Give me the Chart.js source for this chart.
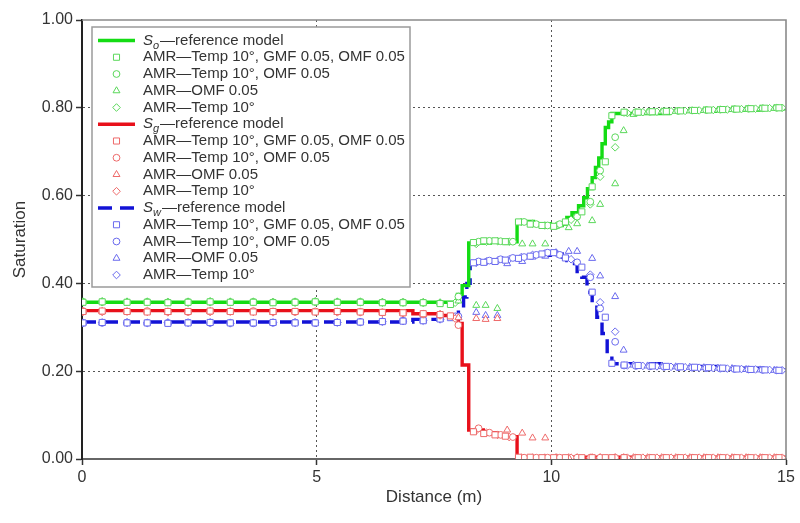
<!DOCTYPE html>
<html>
<head>
<meta charset="utf-8">
<script src="https://cdn.jsdelivr.net/npm/chart.js"></script>
<style>
  html, body { margin: 0; padding: 0; background: #fff; }
  #wrap { width: 800px; height: 523px; }
</style>
</head>
<body>
<div id="wrap"><canvas id="c" width="800" height="523"></canvas></div>
<script>
// ---------- DATA ----------
const xTicks = [0, 5, 10, 15];
const yTicks = [0.0, 0.2, 0.4, 0.6, 0.8, 1.0];

// reference model (stepped lines)
const soLineX = [0, 8.00, 8.10, 8.24, 8.70, 9.00, 9.27, 9.62, 9.98, 10.23, 10.33, 10.44, 10.58, 10.69, 10.77, 10.87, 10.94, 11.01, 11.08, 11.15, 11.22, 11.29, 12.50, 13.50, 14.50, 15.00];
const soLineY = [0.357, 0.375, 0.395, 0.492, 0.497, 0.495, 0.541, 0.536, 0.532, 0.535, 0.550, 0.561, 0.577, 0.595, 0.616, 0.641, 0.664, 0.686, 0.718, 0.755, 0.768, 0.787, 0.792, 0.795, 0.798, 0.800];
const sgLineX = [0, 7.05, 7.60, 8.02, 8.10, 8.24, 8.55, 8.85, 9.05, 9.27, 15.00];
const sgLineY = [0.338, 0.331, 0.327, 0.309, 0.214, 0.066, 0.060, 0.055, 0.051, 0.004, 0.003];
const swLineX = [0, 7.05, 7.60, 8.02, 8.13, 8.20, 8.27, 8.60, 8.98, 9.30, 9.62, 9.98, 10.23, 10.33, 10.44, 10.55, 10.65, 10.76, 10.87, 10.97, 11.08, 11.19, 11.29, 12.50, 13.50, 14.50, 15.00];
const swLineY = [0.312, 0.318, 0.323, 0.343, 0.369, 0.400, 0.448, 0.452, 0.455, 0.460, 0.464, 0.471, 0.460, 0.452, 0.445, 0.422, 0.414, 0.380, 0.350, 0.323, 0.286, 0.240, 0.217, 0.211, 0.207, 0.203, 0.201];

// AMR — Temp 10°, GMF 0.05, OMF 0.05 (squares)
const xSquare = [0.02, 0.43, 0.96, 1.39, 1.83, 2.26, 2.73, 3.16, 3.65, 4.07, 4.54, 4.97, 5.44, 5.93, 6.40, 6.84, 7.27, 7.63, 7.85, 8.34, 8.56, 8.80, 9.02, 9.30, 9.55, 9.80, 10.05, 10.30, 10.65, 10.87, 11.15, 11.29, 11.55, 11.85, 12.15, 12.45, 12.75, 13.05, 13.35, 13.65, 13.95, 14.25, 14.55, 14.85];
const soSquareY = [0.357, 0.358, 0.357, 0.357, 0.356, 0.357, 0.358, 0.357, 0.357, 0.356, 0.357, 0.358, 0.357, 0.357, 0.356, 0.356, 0.356, 0.354, 0.352, 0.493, 0.497, 0.497, 0.495, 0.540, 0.535, 0.532, 0.530, 0.540, 0.563, 0.620, 0.677, 0.782, 0.790, 0.790, 0.791, 0.792, 0.793, 0.794, 0.795, 0.796, 0.797, 0.798, 0.799, 0.800];
const sgSquareY = [0.336, 0.337, 0.336, 0.335, 0.336, 0.336, 0.337, 0.336, 0.335, 0.336, 0.336, 0.335, 0.336, 0.335, 0.334, 0.333, 0.331, 0.329, 0.326, 0.062, 0.058, 0.055, 0.052, 0.004, 0.004, 0.003, 0.003, 0.003, 0.003, 0.003, 0.003, 0.003, 0.003, 0.003, 0.003, 0.003, 0.003, 0.003, 0.003, 0.003, 0.003, 0.003, 0.003, 0.003];
const swSquareY = [0.310, 0.311, 0.310, 0.310, 0.309, 0.310, 0.311, 0.310, 0.310, 0.311, 0.310, 0.310, 0.311, 0.312, 0.313, 0.314, 0.315, 0.319, 0.322, 0.447, 0.448, 0.450, 0.453, 0.457, 0.462, 0.467, 0.470, 0.458, 0.437, 0.380, 0.323, 0.218, 0.214, 0.213, 0.212, 0.211, 0.210, 0.209, 0.208, 0.207, 0.205, 0.204, 0.203, 0.202];

// AMR — Temp 10°, OMF 0.05 (circles)
const xCircle = [0.02, 0.43, 0.96, 1.39, 1.83, 2.26, 2.73, 3.16, 3.65, 4.07, 4.54, 4.97, 5.44, 5.93, 6.40, 6.84, 7.27, 7.63, 8.02, 8.45, 8.68, 8.92, 9.18, 9.42, 9.68, 9.92, 10.18, 10.55, 10.83, 11.04, 11.36, 11.55, 11.80, 12.10, 12.40, 12.70, 13.00, 13.30, 13.60, 13.90, 14.20, 14.50, 14.80];
const soCircleY = [0.358, 0.358, 0.357, 0.358, 0.357, 0.358, 0.358, 0.357, 0.358, 0.357, 0.358, 0.358, 0.357, 0.358, 0.357, 0.357, 0.356, 0.355, 0.370, 0.495, 0.497, 0.496, 0.495, 0.540, 0.535, 0.532, 0.535, 0.552, 0.586, 0.657, 0.733, 0.789, 0.790, 0.791, 0.792, 0.793, 0.794, 0.795, 0.796, 0.797, 0.798, 0.799, 0.800];
const sgCircleY = [0.337, 0.336, 0.336, 0.337, 0.336, 0.335, 0.336, 0.336, 0.337, 0.336, 0.335, 0.336, 0.336, 0.335, 0.334, 0.333, 0.330, 0.328, 0.305, 0.070, 0.060, 0.055, 0.050, 0.003, 0.003, 0.003, 0.003, 0.003, 0.003, 0.003, 0.003, 0.003, 0.003, 0.003, 0.003, 0.003, 0.003, 0.003, 0.003, 0.003, 0.003, 0.003, 0.003];
const swCircleY = [0.310, 0.310, 0.311, 0.310, 0.310, 0.311, 0.310, 0.310, 0.309, 0.310, 0.311, 0.310, 0.311, 0.312, 0.313, 0.315, 0.316, 0.320, 0.325, 0.450, 0.452, 0.455, 0.458, 0.460, 0.465, 0.470, 0.465, 0.448, 0.414, 0.343, 0.267, 0.213, 0.212, 0.211, 0.210, 0.209, 0.208, 0.207, 0.206, 0.205, 0.204, 0.203, 0.202];

// AMR — OMF 0.05 (triangles)
const xTriangle = [0.02, 0.43, 0.96, 1.39, 1.83, 2.26, 2.73, 3.16, 3.65, 4.07, 4.54, 4.97, 5.44, 5.93, 6.40, 6.84, 7.27, 7.63, 8.02, 8.40, 8.60, 8.85, 9.06, 9.38, 9.60, 9.87, 10.10, 10.37, 10.55, 10.87, 11.04, 11.36, 11.54, 11.75, 12.05, 12.35, 12.65, 12.95, 13.25, 13.55, 13.85, 14.15, 14.45, 14.75];
const soTriangleY = [0.358, 0.359, 0.358, 0.358, 0.357, 0.358, 0.359, 0.358, 0.358, 0.357, 0.358, 0.359, 0.358, 0.358, 0.357, 0.357, 0.357, 0.356, 0.360, 0.350, 0.350, 0.343, 0.493, 0.490, 0.490, 0.490, 0.530, 0.527, 0.536, 0.543, 0.580, 0.627, 0.748, 0.785, 0.790, 0.791, 0.792, 0.793, 0.794, 0.795, 0.796, 0.797, 0.798, 0.799];
const sgTriangleY = [0.335, 0.336, 0.335, 0.335, 0.334, 0.335, 0.336, 0.335, 0.335, 0.334, 0.335, 0.335, 0.334, 0.335, 0.333, 0.332, 0.330, 0.330, 0.322, 0.320, 0.318, 0.320, 0.066, 0.059, 0.048, 0.048, 0.003, 0.003, 0.003, 0.003, 0.003, 0.003, 0.003, 0.003, 0.003, 0.003, 0.003, 0.003, 0.003, 0.003, 0.003, 0.003, 0.003, 0.003];
const swTriangleY = [0.310, 0.310, 0.311, 0.310, 0.310, 0.310, 0.311, 0.310, 0.310, 0.310, 0.311, 0.310, 0.311, 0.312, 0.313, 0.314, 0.315, 0.318, 0.322, 0.334, 0.327, 0.327, 0.445, 0.450, 0.460, 0.462, 0.470, 0.473, 0.473, 0.457, 0.417, 0.370, 0.248, 0.214, 0.212, 0.211, 0.210, 0.209, 0.208, 0.207, 0.206, 0.204, 0.203, 0.202];

// AMR — Temp 10° (diamonds)
const xDiamond = [0.02, 0.43, 0.96, 1.39, 1.83, 2.26, 2.73, 3.16, 3.65, 4.07, 4.54, 4.97, 5.44, 5.93, 6.40, 6.84, 7.27, 7.63, 7.95, 8.40, 8.62, 8.86, 9.10, 9.36, 9.60, 9.86, 10.12, 10.42, 10.83, 11.04, 11.36, 11.62, 11.95, 12.25, 12.55, 12.85, 13.15, 13.45, 13.75, 14.05, 14.35, 14.65, 14.92];
const soDiamondY = [0.357, 0.357, 0.358, 0.357, 0.357, 0.356, 0.357, 0.358, 0.357, 0.357, 0.356, 0.357, 0.358, 0.357, 0.356, 0.356, 0.356, 0.355, 0.356, 0.490, 0.495, 0.496, 0.495, 0.540, 0.536, 0.532, 0.532, 0.545, 0.580, 0.643, 0.710, 0.788, 0.790, 0.791, 0.792, 0.793, 0.794, 0.795, 0.796, 0.797, 0.798, 0.799, 0.800];
const sgDiamondY = [0.335, 0.335, 0.336, 0.335, 0.334, 0.335, 0.335, 0.336, 0.335, 0.334, 0.335, 0.335, 0.334, 0.334, 0.333, 0.332, 0.330, 0.327, 0.320, 0.065, 0.060, 0.055, 0.050, 0.003, 0.003, 0.003, 0.003, 0.003, 0.003, 0.003, 0.003, 0.003, 0.003, 0.003, 0.003, 0.003, 0.003, 0.003, 0.003, 0.003, 0.003, 0.003, 0.003];
const swDiamondY = [0.310, 0.311, 0.310, 0.310, 0.311, 0.310, 0.310, 0.309, 0.310, 0.311, 0.310, 0.310, 0.311, 0.312, 0.313, 0.314, 0.315, 0.318, 0.325, 0.447, 0.450, 0.452, 0.455, 0.460, 0.465, 0.468, 0.468, 0.455, 0.420, 0.357, 0.290, 0.213, 0.212, 0.211, 0.210, 0.209, 0.208, 0.207, 0.206, 0.205, 0.204, 0.203, 0.202];

const markerLabels = ['AMR\u2014Temp 10\u00B0, GMF 0.05, OMF 0.05', 'AMR\u2014Temp 10\u00B0, OMF 0.05', 'AMR\u2014OMF 0.05', 'AMR\u2014Temp 10\u00B0'];
const lineLabels = ['So\u2014reference model', 'Sg\u2014reference model', 'Sw\u2014reference model'];

// ---------- STYLE ----------
const FONT = '"Liberation Sans", Arial, Helvetica, sans-serif';
const TXT = '#333333';
const phases = [
  { sub: 'o', line: '#14dc14', mark: '#5ad85a', dash: [] },
  { sub: 'g', line: '#e8101a', mark: '#ee6a6a', dash: [] },
  { sub: 'w', line: '#1212d6', mark: '#6a6aee', dash: [14, 8] }
];
const shapes = [
  { style: 'rect', r: 4.3 },
  { style: 'circle', r: 3.4 },
  { style: 'triangle', r: 4.0 },
  { style: 'rectRot', r: 3.8 }
];

function pts(xs, ys) { return xs.map((x, i) => ({ x: x, y: ys[i] })); }

const lineSets = [[soLineX, soLineY], [sgLineX, sgLineY], [swLineX, swLineY]];
const markXs = [xSquare, xCircle, xTriangle, xDiamond];
const markYs = [
  [soSquareY, soCircleY, soTriangleY, soDiamondY],
  [sgSquareY, sgCircleY, sgTriangleY, sgDiamondY],
  [swSquareY, swCircleY, swTriangleY, swDiamondY]
];

const datasets = [];
phases.forEach((ph, p) => {
  datasets.push({
    label: lineLabels[p], sub: ph.sub, kind: 'line',
    data: pts(lineSets[p][0], lineSets[p][1]),
    showLine: true, stepped: true, borderColor: ph.line, backgroundColor: ph.line,
    borderWidth: 3.4, borderDash: ph.dash, pointRadius: 0, pointHoverRadius: 0, order: 2
  });
  shapes.forEach((sh, k) => {
    datasets.push({
      label: markerLabels[k], kind: 'point',
      data: pts(markXs[k], markYs[p][k]),
      showLine: false, pointStyle: sh.style, pointRadius: sh.r, pointBorderWidth: 1,
      borderColor: ph.mark, backgroundColor: '#ffffff', order: 1
    });
  });
});

// ---------- PLUGINS ----------
function drawMarker(ctx, style, x, y, r) {
  ctx.beginPath();
  if (style === 'rect') {
    const s = Math.SQRT1_2 * r;
    ctx.rect(x - s, y - s, 2 * s, 2 * s);
  } else if (style === 'circle') {
    ctx.arc(x, y, r, 0, Math.PI * 2);
  } else if (style === 'triangle') {
    ctx.moveTo(x, y - r);
    ctx.lineTo(x + r * 0.866, y + r * 0.5);
    ctx.lineTo(x - r * 0.866, y + r * 0.5);
    ctx.closePath();
  } else {
    ctx.moveTo(x, y - r); ctx.lineTo(x + r, y); ctx.lineTo(x, y + r); ctx.lineTo(x - r, y); ctx.closePath();
  }
  ctx.fillStyle = '#fff'; ctx.fill(); ctx.stroke();
}

const framePlugin = {
  id: 'frame',
  afterDatasetsDraw(chart) {
    const { ctx, chartArea: a } = chart;
    ctx.save();
    ctx.strokeStyle = '#8a8a8a'; ctx.lineWidth = 1.6;
    ctx.beginPath();
    ctx.moveTo(a.left, a.top); ctx.lineTo(a.right, a.top); ctx.lineTo(a.right, a.bottom);
    ctx.stroke();
    ctx.restore();
  }
};

const boxLegend = {
  id: 'boxLegend',
  afterDraw(chart) {
    const { ctx, chartArea: a } = chart;
    const x0 = a.left + 10, y0 = a.top + 7, w = 318, h = 260;
    ctx.save();
    ctx.fillStyle = '#ffffff'; ctx.fillRect(x0, y0, w, h);
    ctx.strokeStyle = '#9a9a9a'; ctx.lineWidth = 1.5; ctx.strokeRect(x0, y0, w, h);
    ctx.textBaseline = 'middle'; ctx.textAlign = 'left';
    chart.data.datasets.forEach((ds, i) => {
      const y = y0 + 13.5 + i * 16.75;
      const sx = x0 + 6, ex = x0 + 43, tx = x0 + 51;
      if (ds.kind === 'line') {
        ctx.save();
        ctx.strokeStyle = ds.borderColor; ctx.lineWidth = 3.6;
        ctx.setLineDash(ds.borderDash || []);
        ctx.beginPath(); ctx.moveTo(sx, y); ctx.lineTo(ex, y); ctx.stroke();
        ctx.restore();
        ctx.fillStyle = TXT;
        ctx.font = 'italic 15px ' + FONT;
        ctx.fillText('S', tx, y);
        const w1 = ctx.measureText('S').width;
        ctx.font = 'italic 11px ' + FONT;
        ctx.fillText(ds.sub, tx + w1, y + 5);
        const w2 = ctx.measureText(ds.sub).width;
        ctx.font = '15px ' + FONT;
        ctx.fillText(ds.label.slice(2), tx + w1 + w2 + 1, y);
      } else {
        ctx.save();
        ctx.strokeStyle = ds.borderColor; ctx.lineWidth = 1;
        drawMarker(ctx, ds.pointStyle, (sx + ex) / 2, y, ds.pointRadius);
        ctx.restore();
        ctx.fillStyle = TXT;
        ctx.font = '15px ' + FONT;
        ctx.fillText(ds.label, tx, y);
      }
    });
    ctx.restore();
  }
};

// ---------- CHART ----------
const gridColor = (edgeA, edgeB) => (c) => {
  const v = c.tick ? c.tick.value : null;
  return (v === edgeA || v === edgeB) ? 'rgba(0,0,0,0)' : '#555555';
};

new Chart(document.getElementById('c'), {
  type: 'scatter',
  data: { datasets: datasets },
  options: {
    responsive: false,
    animation: false,
    devicePixelRatio: 1,
    layout: { padding: { left: 0, right: 14, top: 20, bottom: 0 } },
    plugins: { legend: { display: false }, tooltip: { enabled: false } },
    scales: {
      x: {
        type: 'linear', min: 0, max: 15,
        afterBuildTicks: (s) => { s.ticks = xTicks.map(v => ({ value: v })); },
        afterFit: (s) => { s.height = 64; },
        ticks: { color: TXT, font: { family: FONT, size: 16 }, padding: 3, maxRotation: 0,
                 callback: (v) => String(v) },
        grid: { color: gridColor(0, 15), lineWidth: 1, borderDash: [2, 3], tickLength: 6,
                tickColor: '#333', tickWidth: 1.5, tickBorderDash: [] },
        border: { display: true, color: '#666666', width: 2, dash: [2, 3] },
        title: { display: true, text: 'Distance (m)', color: TXT, font: { family: FONT, size: 17 },
                 padding: { top: 0, bottom: 15 } }
      },
      y: {
        type: 'linear', min: 0, max: 1,
        afterBuildTicks: (s) => { s.ticks = yTicks.map(v => ({ value: v })); },
        afterFit: (s) => { s.width = 82; },
        ticks: { color: TXT, font: { family: FONT, size: 16 }, padding: 3,
                 callback: (v) => Number(v).toFixed(2) },
        grid: { color: gridColor(0, 1), lineWidth: 1, borderDash: [2, 3], tickLength: 6,
                tickColor: '#333', tickWidth: 1.5, tickBorderDash: [] },
        border: { display: true, color: '#222222', width: 2, dash: [2, 3] },
        title: { display: true, text: 'Saturation', color: TXT, font: { family: FONT, size: 17 },
                 padding: { top: 10, bottom: 0 } }
      }
    }
  },
  plugins: [framePlugin, boxLegend]
});
</script>
</body>
</html>
